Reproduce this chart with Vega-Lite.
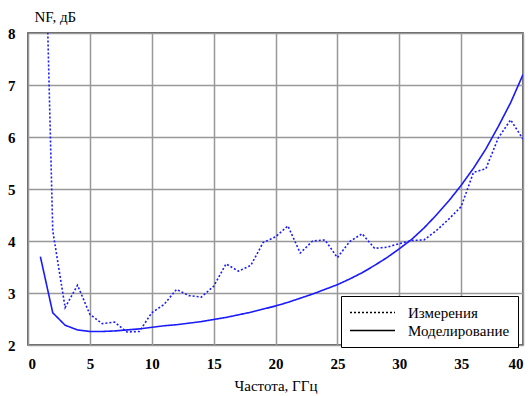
{
  "$schema": "https://vega.github.io/schema/vega-lite/v6.json",
  "width": 495,
  "height": 312,
  "autosize": {"type": "none"},
  "padding": {"left": 28, "top": 33, "right": 9, "bottom": 51},
  "background": "white",
  "config": {
    "view": {"stroke": "#333333", "strokeWidth": 1.5},
    "font": "Liberation Serif",
    "axis": {
      "domain": false,
      "ticks": false,
      "gridColor": "#999999",
      "gridWidth": 1.5,
      "labelFont": "Liberation Serif",
      "labelFontSize": 15,
      "labelFontWeight": "bold",
      "labelColor": "black",
      "titleFont": "Liberation Serif",
      "titleFontSize": 15,
      "titleFontWeight": "normal",
      "titleColor": "black"
    }
  },
  "data": {
    "values": [
      {"f": 1, "nf": 13.7, "s": "Измерения"},
      {"f": 2, "nf": 4.2, "s": "Измерения"},
      {"f": 3, "nf": 2.72, "s": "Измерения"},
      {"f": 4, "nf": 3.15, "s": "Измерения"},
      {"f": 5, "nf": 2.59, "s": "Измерения"},
      {"f": 6, "nf": 2.41, "s": "Измерения"},
      {"f": 7, "nf": 2.44, "s": "Измерения"},
      {"f": 8, "nf": 2.25, "s": "Измерения"},
      {"f": 9, "nf": 2.26, "s": "Измерения"},
      {"f": 10, "nf": 2.62, "s": "Измерения"},
      {"f": 11, "nf": 2.78, "s": "Измерения"},
      {"f": 12, "nf": 3.07, "s": "Измерения"},
      {"f": 13, "nf": 2.95, "s": "Измерения"},
      {"f": 14, "nf": 2.92, "s": "Измерения"},
      {"f": 15, "nf": 3.13, "s": "Измерения"},
      {"f": 16, "nf": 3.56, "s": "Измерения"},
      {"f": 17, "nf": 3.42, "s": "Измерения"},
      {"f": 18, "nf": 3.53, "s": "Измерения"},
      {"f": 19, "nf": 3.97, "s": "Измерения"},
      {"f": 20, "nf": 4.08, "s": "Измерения"},
      {"f": 21, "nf": 4.29, "s": "Измерения"},
      {"f": 22, "nf": 3.77, "s": "Измерения"},
      {"f": 23, "nf": 4.0, "s": "Измерения"},
      {"f": 24, "nf": 4.02, "s": "Измерения"},
      {"f": 25, "nf": 3.68, "s": "Измерения"},
      {"f": 26, "nf": 3.99, "s": "Измерения"},
      {"f": 27, "nf": 4.14, "s": "Измерения"},
      {"f": 28, "nf": 3.86, "s": "Измерения"},
      {"f": 29, "nf": 3.88, "s": "Измерения"},
      {"f": 30, "nf": 3.95, "s": "Измерения"},
      {"f": 31, "nf": 4.01, "s": "Измерения"},
      {"f": 32, "nf": 4.02, "s": "Измерения"},
      {"f": 33, "nf": 4.2, "s": "Измерения"},
      {"f": 34, "nf": 4.42, "s": "Измерения"},
      {"f": 35, "nf": 4.66, "s": "Измерения"},
      {"f": 36, "nf": 5.32, "s": "Измерения"},
      {"f": 37, "nf": 5.39, "s": "Измерения"},
      {"f": 38, "nf": 5.98, "s": "Измерения"},
      {"f": 39, "nf": 6.33, "s": "Измерения"},
      {"f": 40, "nf": 5.96, "s": "Измерения"},
      {"f": 1, "nf": 3.7, "s": "Моделирование"},
      {"f": 2, "nf": 2.62, "s": "Моделирование"},
      {"f": 3, "nf": 2.38, "s": "Моделирование"},
      {"f": 4, "nf": 2.29, "s": "Моделирование"},
      {"f": 5, "nf": 2.26, "s": "Моделирование"},
      {"f": 6, "nf": 2.26, "s": "Моделирование"},
      {"f": 7, "nf": 2.27, "s": "Моделирование"},
      {"f": 8, "nf": 2.29, "s": "Моделирование"},
      {"f": 9, "nf": 2.31, "s": "Моделирование"},
      {"f": 10, "nf": 2.34, "s": "Моделирование"},
      {"f": 11, "nf": 2.37, "s": "Моделирование"},
      {"f": 12, "nf": 2.39, "s": "Моделирование"},
      {"f": 13, "nf": 2.42, "s": "Моделирование"},
      {"f": 14, "nf": 2.45, "s": "Моделирование"},
      {"f": 15, "nf": 2.49, "s": "Моделирование"},
      {"f": 16, "nf": 2.53, "s": "Моделирование"},
      {"f": 17, "nf": 2.58, "s": "Моделирование"},
      {"f": 18, "nf": 2.63, "s": "Моделирование"},
      {"f": 19, "nf": 2.69, "s": "Моделирование"},
      {"f": 20, "nf": 2.75, "s": "Моделирование"},
      {"f": 21, "nf": 2.82, "s": "Моделирование"},
      {"f": 22, "nf": 2.9, "s": "Моделирование"},
      {"f": 23, "nf": 2.98, "s": "Моделирование"},
      {"f": 24, "nf": 3.07, "s": "Моделирование"},
      {"f": 25, "nf": 3.16, "s": "Моделирование"},
      {"f": 26, "nf": 3.27, "s": "Моделирование"},
      {"f": 27, "nf": 3.39, "s": "Моделирование"},
      {"f": 28, "nf": 3.53, "s": "Моделирование"},
      {"f": 29, "nf": 3.68, "s": "Моделирование"},
      {"f": 30, "nf": 3.85, "s": "Моделирование"},
      {"f": 31, "nf": 4.03, "s": "Моделирование"},
      {"f": 32, "nf": 4.25, "s": "Моделирование"},
      {"f": 33, "nf": 4.5, "s": "Моделирование"},
      {"f": 34, "nf": 4.77, "s": "Моделирование"},
      {"f": 35, "nf": 5.07, "s": "Моделирование"},
      {"f": 36, "nf": 5.4, "s": "Моделирование"},
      {"f": 37, "nf": 5.77, "s": "Моделирование"},
      {"f": 38, "nf": 6.2, "s": "Моделирование"},
      {"f": 39, "nf": 6.66, "s": "Моделирование"},
      {"f": 40, "nf": 7.2, "s": "Моделирование"}
    ]
  },
  "mark": {"type": "line", "color": "#1a1aff", "strokeWidth": 1.6, "clip": true},
  "encoding": {
    "x": {
      "field": "f",
      "type": "quantitative",
      "scale": {"domain": [0, 40], "nice": false},
      "axis": {
        "values": [0, 5, 10, 15, 20, 25, 30, 35, 40],
        "title": "Частота, ГГц",
        "labelPadding": 11,
        "titlePadding": 7
      }
    },
    "y": {
      "field": "nf",
      "type": "quantitative",
      "scale": {"domain": [2, 8], "nice": false, "zero": false},
      "axis": {
        "values": [2, 3, 4, 5, 6, 7, 8],
        "title": "NF, дБ",
        "labelPadding": 13,
        "titleAngle": 0,
        "titleAlign": "left",
        "titleBaseline": "alphabetic",
        "titleX": 6,
        "titleY": -12
      }
    },
    "strokeDash": {
      "field": "s",
      "type": "nominal",
      "scale": {"domain": ["Измерения", "Моделирование"], "range": [[2, 2], [1, 0]]},
      "legend": {
        "title": null,
        "orient": "none",
        "legendX": 313,
        "legendY": 263,
        "direction": "vertical",
        "symbolType": "stroke",
        "symbolSize": 2025,
        "clipHeight": 17,
        "symbolStrokeWidth": 1.5,
        "symbolStrokeColor": "black",
        "symbolFillColor": "transparent",
        "labelFont": "Liberation Serif",
        "labelFontSize": 15,
        "labelColor": "black",
        "labelOffset": 12,
        "rowPadding": 1,
        "padding": 8,
        "strokeColor": "black",
        "fillColor": "white",
        "encode": {"symbols": {"update": {"stroke": {"value": "black"}, "fill": {"value": "transparent"}}}}
      }
    }
  }
}
